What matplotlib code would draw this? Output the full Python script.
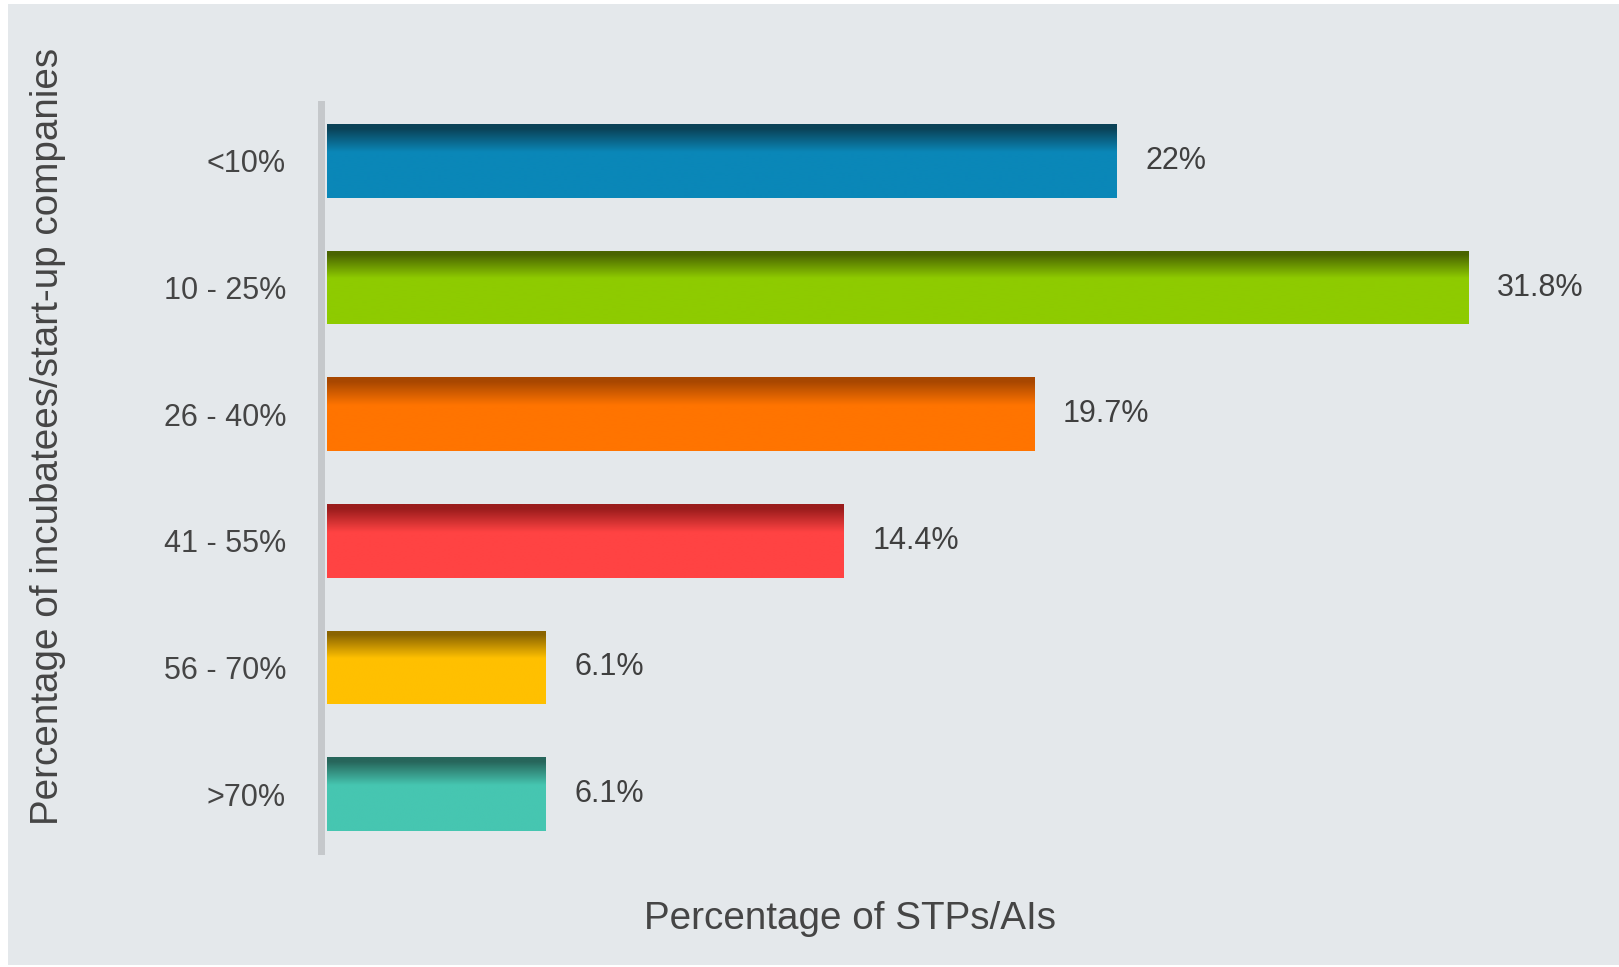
import numpy as np
import matplotlib
matplotlib.use("Agg")
import matplotlib.pyplot as plt
from matplotlib.colors import LinearSegmentedColormap
from matplotlib.patches import Rectangle

categories = ["<10%", "10 - 25%", "26 - 40%", "41 - 55%", "56 - 70%", ">70%"]
values = [22, 31.8, 19.7, 14.4, 6.1, 6.1]
value_labels = ["22%", "31.8%", "19.7%", "14.4%", "6.1%", "6.1%"]
main_colors = ["#0a87b8", "#8ecb00", "#ff7400", "#ff4343", "#ffc000", "#46c6b1"]
dark_colors = ["#0b4257", "#4a6400", "#a84700", "#9a1c1c", "#8a6400", "#27665b"]

plt.rcParams['font.family'] = ['Liberation Sans', 'DejaVu Sans']

fig = plt.figure(figsize=(16.19, 9.67), dpi=100, facecolor="white")
# grey panel behind the chart
fig.patches.append(Rectangle((8 / 1619, 2 / 967), 1 - 8 / 1619, 961 / 967,
                             transform=fig.transFigure, facecolor="#e4e8eb",
                             edgecolor="none", zorder=-10))

ax = fig.add_axes([327 / 1619, 116 / 967, 1 - 327 / 1619, 747 / 967])
ax.set_facecolor("none")
ax.set_zorder(1)

for side in ["top", "right", "bottom"]:
    ax.spines[side].set_visible(False)
ax.spines["left"].set_position(("outward", 4.5))
ax.spines["left"].set_linewidth(5)
ax.spines["left"].set_color("#c5c8cb")

y = np.arange(len(categories))
bar_h = 0.58
bars = ax.barh(y, values, height=bar_h, color=main_colors, zorder=2)

# vertical shading on each bar: dark top fading into the main colour
for bar, c_main, c_dark in zip(bars, main_colors, dark_colors):
    cmap = LinearSegmentedColormap.from_list(
        "g", [(0.0, c_dark), (0.06, c_dark), (0.38, c_main), (0.92, c_main), (1.0, c_main)])
    grad = np.linspace(0, 1, 256).reshape(-1, 1)
    x0, y0 = bar.get_x(), bar.get_y()
    w, h = bar.get_width(), bar.get_height()
    im = ax.imshow(grad, cmap=cmap, aspect="auto", zorder=3,
                   extent=(x0, x0 + w, y0 + h, y0), interpolation="bilinear")
    im.set_clip_path(bar)

for yi, v, lab in zip(y, values, value_labels):
    ax.text(v + 0.8, yi, lab, va="center", ha="left", fontsize=22,
            color="#3f3f3f", zorder=4)

ax.set_xlim(0, (1619 - 327) / 35.9)
ax.set_ylim(len(categories) - 0.55, -0.45)
ax.set_yticks(y)
ax.set_yticklabels(categories)
ax.set_xticks([])
ax.tick_params(axis="y", length=0, pad=25, labelsize=22, labelcolor="#454545")

fig.text(850 / 1619, 1 - 919 / 967, "Percentage of STPs/AIs", ha="center",
         va="center", fontsize=27.8, color="#454545")
fig.text(48 / 1619, 1 - 436 / 967, "Percentage of incubatees/start-up companies",
         ha="center", va="center", rotation=90, fontsize=27.8, color="#454545")

fig.savefig("out.png", dpi=100, facecolor="white")
